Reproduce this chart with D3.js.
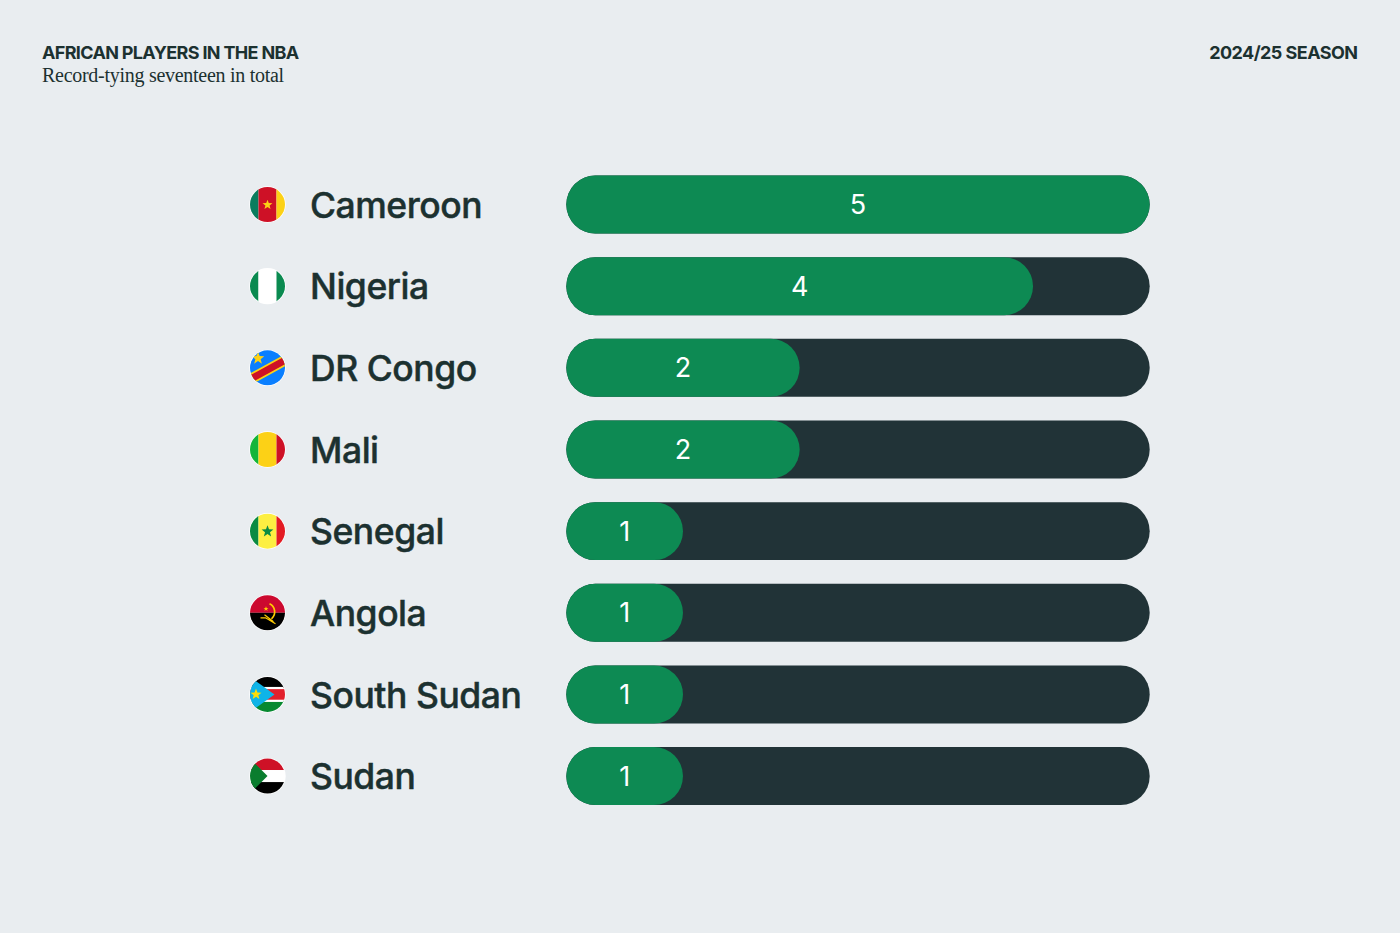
<!DOCTYPE html>
<html>
<head>
<meta charset="utf-8">
<script src="https://cdnjs.cloudflare.com/ajax/libs/d3/7.8.5/d3.min.js"></script>
<style>
html,body{margin:0;padding:0;background:#e9edf0;}
svg{display:block;}
text{font-family:Inter,sans-serif;fill:#1c3130;}
</style>
</head>
<body>
<svg id="chart" width="1400" height="933"></svg>
<script>
const countries = ["Cameroon","Nigeria","DR Congo","Mali","Senegal","Angola","South Sudan","Sudan"];
const players = [5,4,2,2,1,1,1,1];
const flagKeys = ["cm","ng","cd","ml","sn","ao","ss","sd"];
const titleText = "AFRICAN PLAYERS IN THE NBA";
const subtitleText = "Record-tying seventeen in total";
const seasonText = "2024/25 SEASON";

const GREEN = "#0d8a53", TRACK = "#213337", INK = "#1c3130";

const svg = d3.select("#chart");

const x = d3.scaleLinear().domain([0,5]).range([566.3,1149.7]);
const y = d3.scaleBand().domain(countries).range([163.7,816.9]).paddingInner(0.29).paddingOuter(0.145);

// Header
svg.append("text").attr("x",42).attr("y",59).attr("font-size",18).attr("font-weight",650)
  .attr("letter-spacing",-0.66).text(titleText);
svg.append("text").attr("x",42).attr("y",81.5).attr("font-size",20).attr("letter-spacing",-0.28)
  .style("font-family","'Liberation Serif',serif").text(subtitleText);
svg.append("text").attr("x",1357.5).attr("y",59).attr("text-anchor","end").attr("font-size",18)
  .attr("font-weight",650).attr("letter-spacing",-0.55).text(seasonText);

// Five-pointed star centred on (cx,cy)
function star(cx,cy,r){
  const pts=[];
  for(let i=0;i<10;i++){
    const a=-Math.PI/2+i*Math.PI/5, q=i%2?r*0.42:r;
    pts.push([cx+q*Math.cos(a),cy+q*Math.sin(a)]);
  }
  return pts.map(p=>p.join(",")).join(" ");
}
const rect=(g,x0,y0,w,h,c)=>g.append("rect").attr("x",x0).attr("y",y0).attr("width",w).attr("height",h).attr("fill",c);
const poly=(g,pts,c)=>g.append("polygon").attr("points",pts).attr("fill",c);

// Flag painters work in a local box from -18 to 18 on each axis
const painters = {
  cm(g){rect(g,-18,-18,9,36,"#0a7d5e");rect(g,-9,-18,18,36,"#ce1126");rect(g,9,-18,9,36,"#fcd116");poly(g,star(0,0.3,5.2),"#fcd116");},
  ng(g){rect(g,-18,-18,9,36,"#0a8a50");rect(g,-9,-18,18,36,"#ffffff");rect(g,9,-18,9,36,"#0a8a50");},
  cd(g){rect(g,-18,-18,36,36,"#0a7fff");
    g.append("line").attr("x1",-22).attr("y1",14).attr("x2",22).attr("y2",-10).attr("stroke","#fcd116").attr("stroke-width",10.5);
    g.append("line").attr("x1",-22).attr("y1",14).attr("x2",22).attr("y2",-10).attr("stroke","#ce1126").attr("stroke-width",7);
    poly(g,star(-9.5,-9.5,6.6),"#fcd116");},
  ml(g){rect(g,-18,-18,9,36,"#14b53a");rect(g,-9,-18,18,36,"#fcd116");rect(g,9,-18,9,36,"#ce1126");},
  sn(g){rect(g,-18,-18,9,36,"#0a8a43");rect(g,-9,-18,18,36,"#fdef42");rect(g,9,-18,9,36,"#e31b23");poly(g,star(0,0.3,6.2),"#0a8a43");},
  ao(g){rect(g,-18,-18,36,18,"#cc092f");rect(g,-18,0,36,18,"#000000");
    g.append("path").attr("d","M2,-9 A9,9 0 0 1 4,6").attr("fill","none").attr("stroke","#ffcb00").attr("stroke-width",1.7);
    g.append("path").attr("d","M-7,5 L-2,5 L8,11 M-3,2 L6,9").attr("fill","none").attr("stroke","#ffcb00").attr("stroke-width",1.2);
    poly(g,star(-1.5,-4,2.6),"#ffcb00");},
  ss(g){rect(g,-18,-18,36,12,"#000000");rect(g,-18,-6,36,12,"#e2202c");rect(g,-18,6,36,12,"#078930");
    rect(g,-18,-7.5,36,2.2,"#ffffff");rect(g,-18,5.3,36,2.2,"#ffffff");
    poly(g,"-18,-18 7,0 -18,18","#0fb4e8");poly(g,star(-11.5,0,5.8),"#fcdd09");},
  sd(g){rect(g,-18,-18,36,12,"#ce1126");rect(g,-18,-6,36,12,"#ffffff");rect(g,-18,6,36,12,"#000000");
    poly(g,"-18,-18 0,0 -18,18","#0a7d2e");}
};

const defs = svg.append("defs");
defs.append("clipPath").attr("id","flag-disc").append("circle").attr("r",17.5);

const rows = svg.selectAll("g.row").data(countries).join("g").attr("class","row")
  .attr("transform",d=>`translate(0,${y(d)+y.bandwidth()/2})`);

// Flags
rows.each(function(d,i){
  const g=d3.select(this).append("g").attr("transform","translate(267.5,0)");
  g.append("circle").attr("r",18.2).attr("fill","#ffffff");
  const inner=g.append("g").attr("clip-path","url(#flag-disc)");
  painters[flagKeys[i]](inner);
});

// Country names, thickened slightly with a hairline stroke
rows.append("text").attr("x",310).attr("y",13.2).attr("font-size",35.5).attr("font-weight",500)
  .attr("letter-spacing",-0.46).attr("stroke",INK).attr("stroke-width",0.45).text(d=>d);

// Track behind each bar
const h=y.bandwidth();
rows.append("rect").attr("x",x(0)).attr("y",-h/2).attr("width",x(5)-x(0)).attr("height",h)
  .attr("rx",h/2).attr("fill",TRACK);

// Player-count bars
rows.append("rect").attr("x",x(0)).attr("y",-h/2)
  .attr("width",(d,i)=>x(players[i])-x(0)).attr("height",h).attr("rx",h/2).attr("fill",GREEN);

// Value labels, centred in the bar
rows.append("text").attr("x",(d,i)=>x(players[i]/2)).attr("y",9.5).attr("text-anchor","middle")
  .attr("font-size",27).attr("font-weight",400).style("fill","#ffffff").text((d,i)=>players[i]);
</script>
</body>
</html>
